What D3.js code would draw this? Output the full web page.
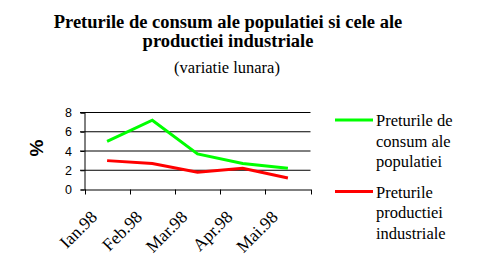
<!DOCTYPE html>
<html><head><meta charset="utf-8">
<script src="https://cdn.jsdelivr.net/npm/d3@7"></script>
<style>body{margin:0;background:#fff}svg{display:block}</style>
</head><body>
<script>
const categories = ["Ian.98","Feb.98","Mar.98","Apr.98","Mai.98"];
const consum = [5.0, 7.2, 3.7, 2.7, 2.2];
const productie = [3.0, 2.7, 1.8, 2.2, 1.2];
const yTicks = [0, 2, 4, 6, 8];
const seriesNames = [["Preturile de","consum ale","populatiei"],["Preturile","productiei","industriale"]];
const titleLines = ["Preturile de consum ale populatiei si cele ale","productiei industriale"];
const subtitle = "(variatie lunara)";

const W=477,H=269;
const svg=d3.select("body").append("svg").attr("width",W).attr("height",H);
const serif="Liberation Serif, DejaVu Serif, Times New Roman, Times, serif";
const sans="Liberation Sans, Arial, sans-serif";

const x=d3.scaleBand().domain(categories).range([84.5,310.5]);
const y=d3.scaleLinear().domain([0,8]).range([189.5,112.5]);

// title
svg.append("text").attr("x",228).attr("y",28).attr("text-anchor","middle")
  .style("font-family",serif).attr("font-weight","bold").attr("font-size",18.5).text(titleLines[0]);
svg.append("text").attr("x",228).attr("y",47).attr("text-anchor","middle")
  .style("font-family",serif).attr("font-weight","bold").attr("font-size",18.5).text(titleLines[1]);
svg.append("text").attr("x",227).attr("y",73).attr("text-anchor","middle")
  .style("font-family",serif).attr("font-size",16.5).text(subtitle);

// gridlines
svg.append("g").selectAll("line").data(yTicks.filter(d=>d>0)).join("line")
  .attr("x1",80).attr("x2",310.5).attr("y1",d=>y(d)).attr("y2",d=>y(d))
  .attr("stroke","#000").attr("stroke-width",1);

// y axis
const ya=svg.append("g").attr("transform","translate(84.5,0)")
  .call(d3.axisLeft(y).tickValues(yTicks).tickSize(4).tickPadding(8.5));
ya.select(".domain").attr("stroke","#000");
ya.selectAll("text").style("font-family",sans).attr("font-size",12.5).attr("fill","#000");

// x axis
const xa=svg.append("g").attr("transform","translate(0,189.5)")
  .call(d3.axisBottom(x).tickSize(0).tickFormat(""));
xa.select(".domain").attr("stroke","#000");
const edges=categories.map(c=>x(c)).concat([x.range()[1]]);
svg.append("g").selectAll("line").data(edges).join("line")
  .attr("x1",d=>Math.round(d)+0.5).attr("x2",d=>Math.round(d)+0.5)
  .attr("y1",189.5).attr("y2",194.5).attr("stroke","#000");
svg.append("g").selectAll("text").data(categories).join("text")
  .attr("transform",d=>`translate(${x(d)+x.bandwidth()/2-9},218) rotate(-45)`)
  .attr("text-anchor","end").style("font-family",serif).attr("font-size",17.5).text(d=>d);

// y title
svg.append("text").attr("transform","translate(43,148) rotate(-90)").attr("text-anchor","middle")
  .style("font-family",sans).attr("font-weight","bold").attr("font-size",19).text("%");

// lines
const line=d3.line().x((d,i)=>x(categories[i])+x.bandwidth()/2).y(d=>y(d));
svg.append("path").datum(consum).attr("d",line).attr("fill","none").attr("stroke","#00ff00").attr("stroke-width",3);
svg.append("path").datum(productie).attr("d",line).attr("fill","none").attr("stroke","#ff0000").attr("stroke-width",3);

// legend
const colors=["#00ff00","#ff0000"];
const ly=[120,191.5];
seriesNames.forEach((lines,k)=>{
  svg.append("line").attr("x1",335).attr("x2",373).attr("y1",ly[k]).attr("y2",ly[k])
    .attr("stroke",colors[k]).attr("stroke-width",3);
  lines.forEach((t,j)=>{
    svg.append("text").attr("x",376).attr("y",ly[k]+6+j*20.5)
      .style("font-family",serif).attr("font-size",16.5).text(t);
  });
});
</script>
</body></html>
